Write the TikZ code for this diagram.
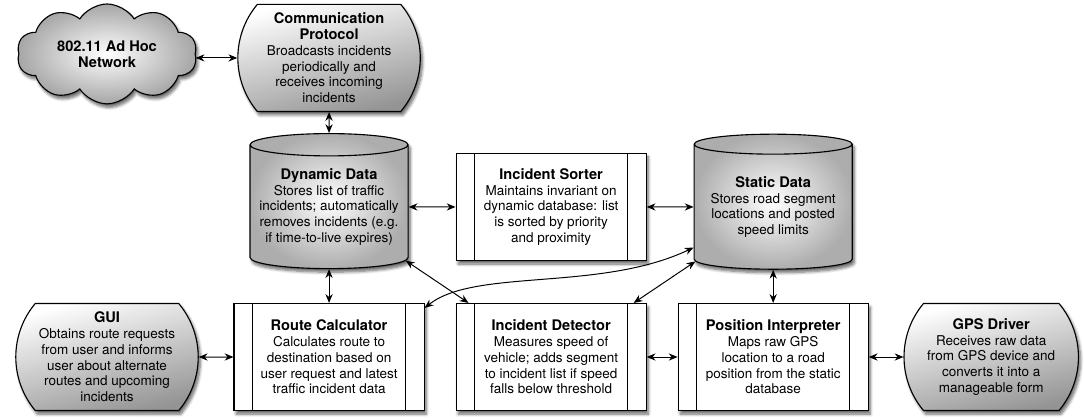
\documentclass[tikz,border=0pt]{standalone}
\usepackage{fontspec}
\setmainfont{TeX Gyre Heros}
\usetikzlibrary{shapes.geometric,shapes.symbols,shapes.misc,shadows.blur,arrows.meta}
\newcommand{\heading}[1]{{\fontsize{10.4}{11.2}\selectfont\bfseries #1}}

\begin{document}
\begin{tikzpicture}[x=0.025cm, y=-0.025cm, node distance=5.55cm,
    every node/.style={align=center, font=\fontsize{9.6}{11.2}\selectfont, line width=0.8pt, inner sep=2pt},
    softshadow/.style={blur shadow={shadow xshift=1.5pt, shadow yshift=-2.5pt, shadow blur steps=6, shadow opacity=60}},
    process/.style={draw, rectangle, fill=white, softshadow, minimum width=4.75cm, minimum height=2.675cm},
    terminal/.style={draw, rounded rectangle, rounded rectangle arc length=80, top color=white, bottom color=black!42, shading angle=15, softshadow, minimum width=4.7cm, minimum height=2.675cm},
    store/.style={draw, cylinder, shape border rotate=90, aspect=0.16, inner sep=0pt, inner color=white, outer color=black!32, softshadow, minimum width=3.95cm, minimum height=3.375cm},
    link/.style={<->, >={Stealth[length=2.2mm, width=1.8mm]}, line width=0.7pt}]
    \useasboundingbox (0,0) rectangle (1084,417);

    % Bottom row
    \node[terminal] (gui) at (107,357) {\heading{GUI}\\ Obtains route requests\\ from user and informs\\ user about alternate\\ routes and upcoming\\ incidents};
    \node[process] (route) [right of=gui] {\heading{Route Calculator}\\ Calculates route to\\ destination based on\\ user request and latest\\ traffic incident data};
    \node[process] (det) [right of=route] {\heading{Incident Detector}\\ Measures speed of\\ vehicle; adds segment\\ to incident list if speed\\ falls below threshold};
    \node[process] (pos) [right of=det] {\heading{Position Interpreter}\\ Maps raw GPS\\ location to a road\\ position from the static\\ database};
    \node[terminal, minimum width=4.5cm] (gps) [right of=pos, xshift=-0.1cm] {\heading{GPS Driver}\\ Receives raw data\\ from GPS device and\\ converts it into a\\ manageable form};

    % Middle row
    \node[store] (dyn) [above of=route, node distance=3.75cm] {\heading{Dynamic Data}\\ Stores list of traffic\\ incidents; automatically\\ removes incidents (e.g.\\ if time-to-live expires)};
    \node[process] (sorter) [above of=det, node distance=3.75cm] {\heading{Incident Sorter}\\ Maintains invariant on\\ dynamic database: list\\ is sorted by priority\\ and proximity};
    \node[store] (static) [above of=pos, node distance=3.75cm] {\heading{Static Data}\\ Stores road segment\\ locations and posted\\ speed limits};

    % Top row
    \node[terminal] (comm) [above of=dyn, node distance=3.725cm] {\heading{Communication}\\ \heading{Protocol}\\ Broadcasts incidents\\ periodically and\\ receives incoming\\ incidents};
    \node[draw, cloud, cloud puffs=10, cloud puff arc=115, aspect=1.9, minimum width=4.5cm, minimum height=2.35cm, inner color=white, outer color=black!35, softshadow] (net) [left of=comm, yshift=0.1cm] {\heading{802.11 Ad Hoc}\\ \heading{Network}};

    % Side bars
    \foreach \n in {sorter,route,det,pos} {
        \draw[line width=0.8pt] ([xshift=0.475cm]\n.north west) -- ([xshift=0.475cm]\n.south west);
        \draw[line width=0.8pt] ([xshift=-0.475cm]\n.north east) -- ([xshift=-0.475cm]\n.south east);
    }

    % Edges
    \draw[link] (net.east |- comm.west) -- (comm.west);
    \draw[link] (comm) -- (dyn);
    \draw[link] (dyn) -- (sorter);
    \draw[link] (sorter) -- (static);
    \draw[link] (dyn) -- (route);
    \draw[link] (static) -- (pos);
    \draw[link] (gui) -- (route);
    \draw[link] (det) -- (pos);
    \draw[link] (pos) -- (gps);
    \draw[link] (dyn.-35) -- ([xshift=0.325cm]det.north west);
    \draw[link] (static.215) -- ([xshift=-0.325cm]det.north east);
    \draw[link] (static.207) .. controls (600,292) and (475,268) .. ([yshift=-0.125cm]route.north east);
\end{tikzpicture}
\end{document}
